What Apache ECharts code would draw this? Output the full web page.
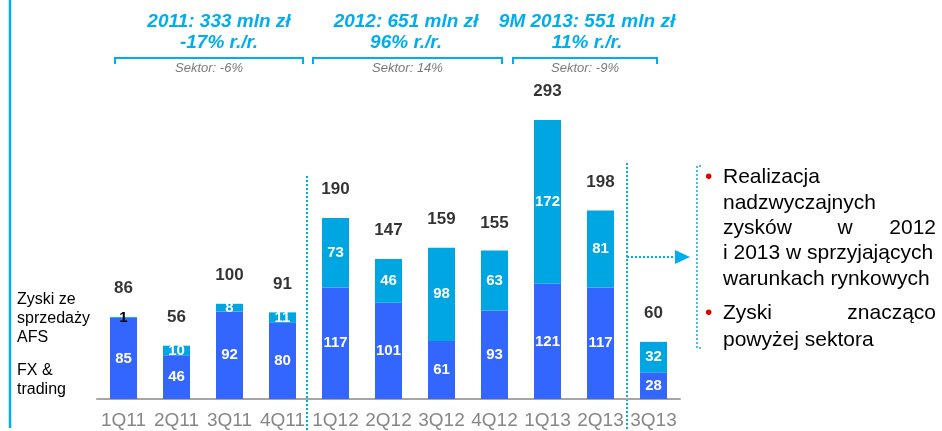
<!DOCTYPE html>
<html>
<head>
    <meta charset="utf-8">
    <title>ECharts</title>
    <script src="https://cdn.jsdelivr.net/npm/echarts@6/dist/echarts.min.js"></script>
</head>
<body style="margin:0">
<div id="main" style="width: 942px;height:431px;"></div>
<script type="text/javascript">
var quarters = ['1Q11', '2Q11', '3Q11', '4Q11', '1Q12', '2Q12', '3Q12', '4Q12', '1Q13', '2Q13', '3Q13'];
var fxTrading = [85, 46, 92, 80, 117, 101, 61, 93, 121, 117, 28];
var afsGains = [1, 10, 8, 11, 73, 46, 98, 63, 172, 81, 32];
var totals = [86, 56, 100, 91, 190, 147, 159, 155, 293, 198, 60];

var blue = '#00AEEF';
var font = 'Liberation Sans, Arial, sans-serif';

var myChart = echarts.init(document.getElementById('main'));

// etykieta "1" w 1Q11 jest czarna
var afsData = afsGains.map(function (v, i) {
    if (i === 0) return {value: v, label: {color: '#000'}};
    return v;
});

function header(cx, l1, l2, sektor, x1, x2) {
    return [
        {type: 'text', style: {x: cx, y: 22, text: l1, align: 'center', verticalAlign: 'middle',
            font: 'italic bold 19px ' + font, fill: blue}},
        {type: 'text', style: {x: cx, y: 43, text: l2, align: 'center', verticalAlign: 'middle',
            font: 'italic bold 19px ' + font, fill: blue}},
        {type: 'polyline', shape: {points: [[x1, 64], [x1, 58], [x2, 58], [x2, 64]]},
            style: {stroke: blue, lineWidth: 2, fill: null}},
        {type: 'text', style: {x: (x1 + x2) / 2, y: 68, text: sektor, align: 'center', verticalAlign: 'middle',
            font: 'italic 13px ' + font, fill: '#7a7a7a'}}
    ];
}

function txt(x, y, s, align, color) {
    return {type: 'text', style: {x: x, y: y, text: s, align: align || 'left', verticalAlign: 'middle',
        font: '21px ' + font, fill: color || '#000'}};
}

var graphics = [
    {type: 'line', shape: {x1: 10, y1: 0, x2: 10, y2: 428}, style: {stroke: blue, lineWidth: 2.5}},
    {type: 'line', shape: {x1: 307, y1: 176, x2: 307, y2: 431}, style: {stroke: blue, lineWidth: 2, lineDash: [2, 2]}},
    {type: 'line', shape: {x1: 627, y1: 163, x2: 627, y2: 431}, style: {stroke: blue, lineWidth: 2, lineDash: [2, 2]}},
    // strzalka
    {type: 'line', shape: {x1: 627, y1: 257, x2: 676, y2: 257}, style: {stroke: blue, lineWidth: 2, lineDash: [2, 2]}},
    {type: 'polygon', shape: {points: [[675, 250], [690, 257], [675, 264]]}, style: {fill: blue}},
    {type: 'polyline', shape: {points: [[701, 166], [697, 166], [697, 348], [701, 348]]},
        style: {stroke: blue, lineWidth: 1.5, lineDash: [2, 2], fill: null}},
    // legenda z lewej
    {type: 'text', style: {x: 17, y: 319, text: 'Zyski ze\nsprzedaży\nAFS', verticalAlign: 'middle',
        font: '16px ' + font, fill: '#000', lineHeight: 19}},
    {type: 'text', style: {x: 17, y: 380, text: 'FX &\ntrading', verticalAlign: 'middle',
        font: '16px ' + font, fill: '#000', lineHeight: 19}},
    // punkty
    txt(705, 177, '•', 'left', '#E00000'),
    txt(723, 177, 'Realizacja'),
    txt(723, 203, 'nadzwyczajnych'),
    txt(723, 228, 'zysków'),
    txt(845, 228, 'w', 'center'),
    txt(936, 228, '2012', 'right'),
    txt(723, 253, 'i 2013 w sprzyjających'),
    txt(723, 279, 'warunkach rynkowych'),
    txt(705, 313, '•', 'left', '#E00000'),
    txt(723, 313, 'Zyski'),
    txt(936, 313, 'znacząco', 'right'),
    txt(723, 340, 'powyżej sektora')
];
graphics = graphics
    .concat(header(219, '2011: 333 mln zł', '-17% r./r.', 'Sektor: -6%', 115, 303))
    .concat(header(406, '2012: 651 mln zł', '96% r./r.', 'Sektor: 14%', 313, 502))
    .concat(header(587, '9M 2013: 551 mln zł', '11% r./r.', 'Sektor: -9%', 513, 657));

myChart.setOption({
    backgroundColor: '#fff',
    animation: false,
    textStyle: {fontFamily: font},
    grid: {left: 97, right: 262, top: 113.4, bottom: 32},
    xAxis: {
        type: 'category',
        data: quarters,
        axisLine: {lineStyle: {color: '#A6A6A6', width: 2}},
        axisTick: {length: 5, lineStyle: {color: '#A6A6A6', width: 2}},
        axisLabel: {color: '#878787', fontSize: 19, margin: 12, interval: 0}
    },
    yAxis: {type: 'value', min: 0, max: 300, show: false, splitLine: {show: false}},
    series: [
        {
            name: 'FX & trading',
            type: 'bar',
            stack: 'a',
            barWidth: 27,
            data: fxTrading,
            itemStyle: {color: '#3366FF'},
            label: {show: true, position: 'inside', color: '#fff', fontWeight: 'bold', fontSize: 15}
        },
        {
            name: 'Zyski ze sprzedaży AFS',
            type: 'bar',
            stack: 'a',
            barWidth: 27,
            data: afsData,
            itemStyle: {color: '#00A6E2'},
            label: {show: true, position: 'inside', color: '#fff', fontWeight: 'bold', fontSize: 15}
        },
        {
            name: 'Suma',
            type: 'scatter',
            data: totals,
            symbolSize: 0,
            label: {show: true, position: 'top', distance: 20, color: '#000', fontWeight: 'bold', fontSize: 17}
        }
    ],
    graphic: graphics
});
</script>
</body>
</html>
